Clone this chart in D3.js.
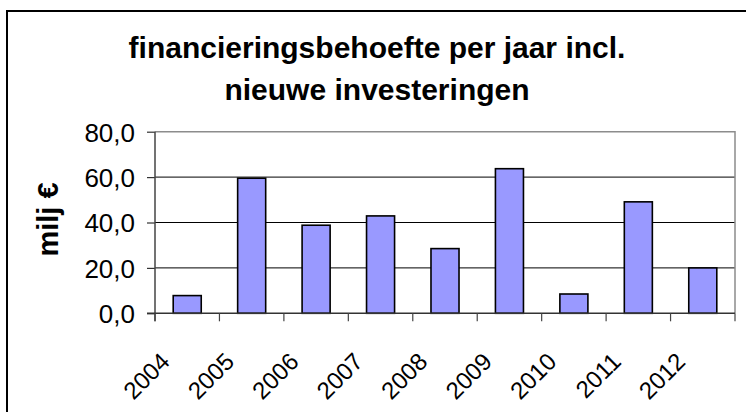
<!DOCTYPE html>
<html>
<head>
<meta charset="utf-8">
<script src="https://cdn.jsdelivr.net/npm/d3@7"></script>
<style>
  html, body { margin: 0; padding: 0; background: #fff; }
  svg { display: block; font-family: "Liberation Sans", Arial, sans-serif; }
</style>
</head>
<body>
<svg id="chart" width="746" height="412"></svg>
<script>
const categories = ["2004","2005","2006","2007","2008","2009","2010","2011","2012"];
const values = [7.8, 59.5, 38.8, 42.9, 28.5, 63.7, 8.5, 49.1, 20.0];
const yTicks = [0, 20, 40, 60, 80];
const titleLines = ["financieringsbehoefte per jaar incl.", "nieuwe investeringen"];
const yTitle = "milj €";

const svg = d3.select("#chart");
const plot = { left: 155, right: 735, top: 131.7, bottom: 313.3 };

// outer chart frame
svg.append("rect")
  .attr("x", 7).attr("y", 11).attr("width", 770).attr("height", 430)
  .attr("fill", "#fff").attr("stroke", "#000").attr("stroke-width", 2);

const x = d3.scaleBand().domain(categories).range([plot.left, plot.right])
  .paddingInner(0.565).paddingOuter(0.2825);
const y = d3.scaleLinear().domain([0, 80]).range([plot.bottom, plot.top]);

// gridlines
svg.append("g").selectAll("line").data(yTicks.filter(d => d > 0 && d < 80)).join("line")
  .attr("x1", plot.left).attr("x2", plot.right)
  .attr("y1", d => y(d)).attr("y2", d => y(d))
  .attr("stroke", "#000").attr("stroke-width", 1);

// plot area border (top/right gray)
svg.append("path")
  .attr("d", `M${plot.left},${y(80)}H${plot.right}V${plot.bottom}`)
  .attr("fill", "none").attr("stroke", "#8c8c8c").attr("stroke-width", 1.5);

// bars
svg.append("g").selectAll("rect").data(categories).join("rect")
  .attr("x", d => x(d)).attr("width", x.bandwidth())
  .attr("y", (d, i) => y(values[i])).attr("height", (d, i) => y(0) - y(values[i]))
  .attr("fill", "#9999ff").attr("stroke", "#000").attr("stroke-width", 1.6);

// y axis
const yAxis = d3.axisLeft(y).tickValues(yTicks).tickSize(8)
  .tickFormat(d => d3.format(".1f")(d).replace(".", ","));
const ya = svg.append("g").attr("transform", `translate(${plot.left},0)`).call(yAxis);
ya.select(".domain").remove();
ya.selectAll(".tick line").attr("stroke", "#333").attr("stroke-width", 1.2);
ya.selectAll(".tick text").attr("x", -20).attr("dy", "0.36em")
  .attr("font-size", 26).attr("fill", "#000")
  .attr("font-family", "'Liberation Sans', Arial, sans-serif");
ya.append("line").attr("x1", 0).attr("x2", 0).attr("y1", y(80)).attr("y2", plot.bottom + 8)
  .attr("stroke", "#444").attr("stroke-width", 1.5);

// x axis line and boundary ticks
const gap = (x.step() - x.bandwidth()) / 2;
const bounds = categories.map(c => x(c) - gap).concat([plot.right]);
const xa = svg.append("g");
xa.append("line").attr("x1", plot.left - 8).attr("x2", plot.right)
  .attr("y1", plot.bottom).attr("y2", plot.bottom)
  .attr("stroke", "#333").attr("stroke-width", 1.5);
xa.selectAll("line.tk").data(bounds).join("line").attr("class", "tk")
  .attr("x1", d => d).attr("x2", d => d)
  .attr("y1", plot.bottom).attr("y2", plot.bottom + 8)
  .attr("stroke", "#444").attr("stroke-width", 1.2);

// x labels rotated
svg.append("g").selectAll("text").data(categories).join("text")
  .attr("transform", d => `translate(${x(d) + x.bandwidth() / 2 - 16},363) rotate(-45)`)
  .attr("text-anchor", "end").attr("font-size", 24).attr("fill", "#000")
  .text(d => d);

// title
svg.append("g").selectAll("text").data(titleLines).join("text")
  .attr("x", 377).attr("y", (d, i) => 58 + i * 42)
  .attr("text-anchor", "middle").attr("font-size", 30).attr("font-weight", "bold")
  .attr("fill", "#000").text(d => d);

// y title
svg.append("text")
  .attr("transform", "translate(58,219.5) rotate(-90)")
  .attr("text-anchor", "middle").attr("font-size", 29).attr("font-weight", "bold")
  .attr("fill", "#000").text(yTitle);
</script>
</body>
</html>
